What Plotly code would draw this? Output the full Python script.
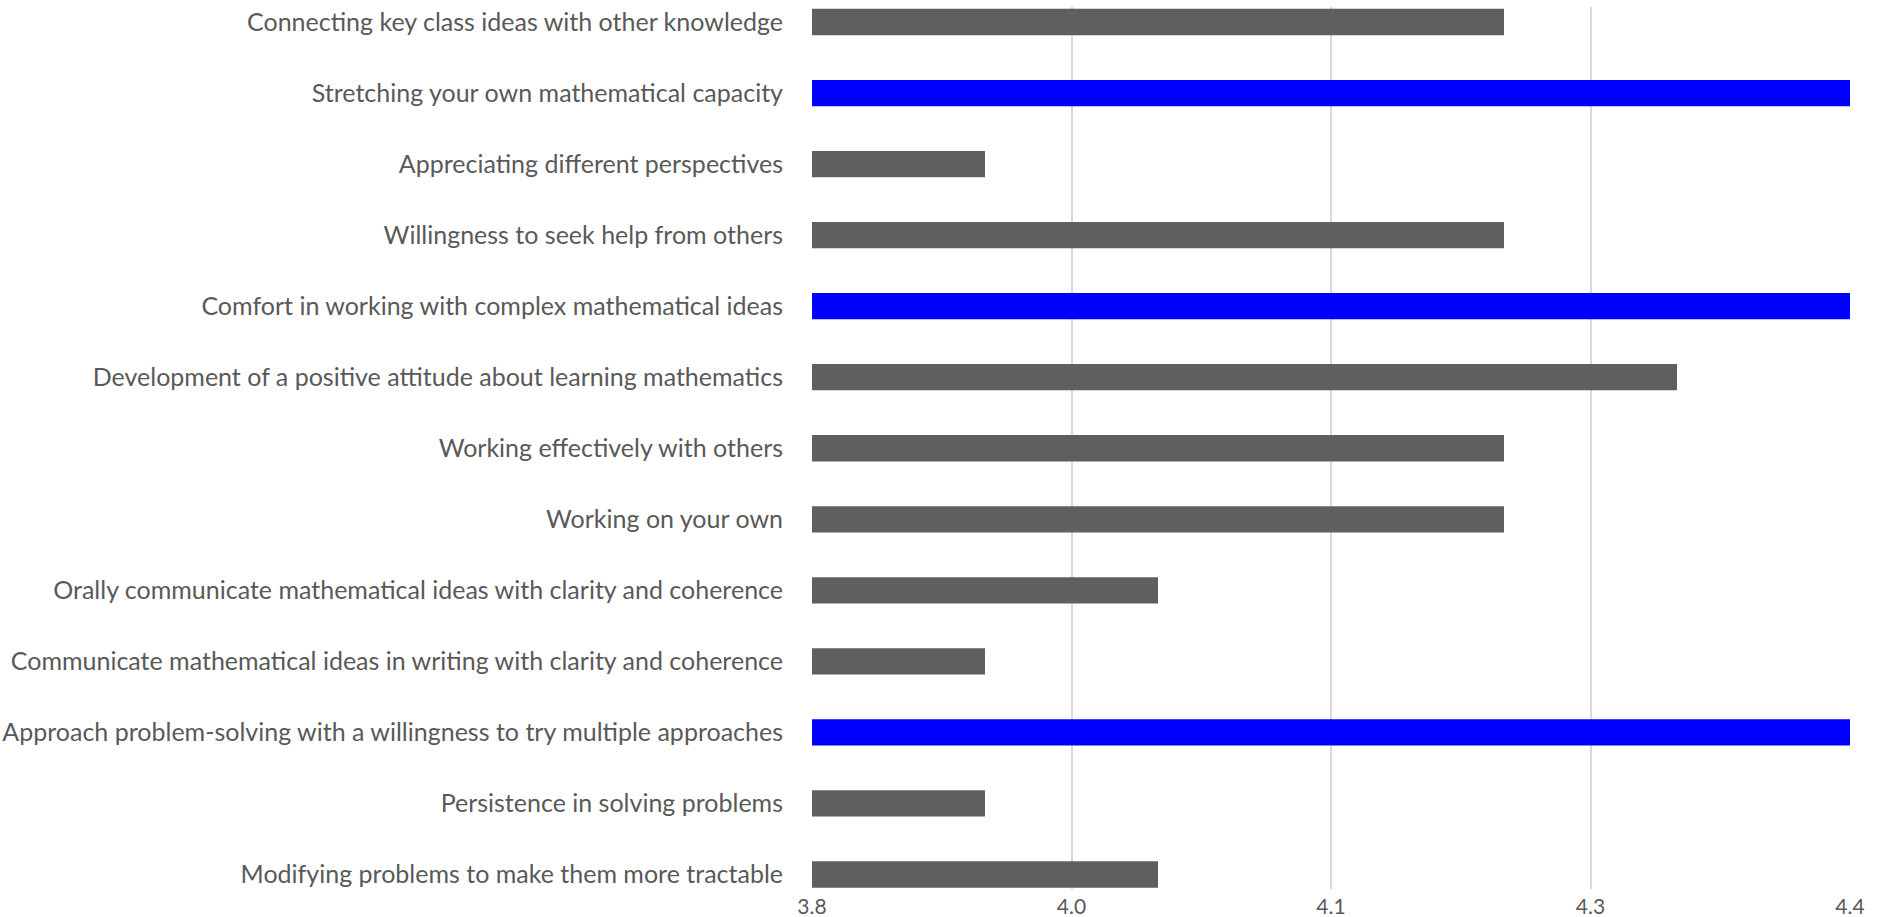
import plotly.graph_objects as go

categories = [
    "Connecting key class ideas with other knowledge",
    "Stretching your own mathematical capacity",
    "Appreciating different perspectives",
    "Willingness to seek help from others",
    "Comfort in working with complex mathematical ideas",
    "Development of a positive attitude about learning mathematics",
    "Working effectively with others",
    "Working on your own",
    "Orally communicate mathematical ideas with clarity and coherence",
    "Communicate mathematical ideas in writing with clarity and coherence",
    "Approach problem-solving with a willingness to try multiple approaches",
    "Persistence in solving problems",
    "Modifying problems to make them more tractable",
]
values = [4.2, 4.4, 3.9, 4.2, 4.4, 4.3, 4.2, 4.2, 4.0, 3.9, 4.4, 3.9, 4.0]
highlight = [False, True, False, False, True, False, False, False, False, False, True, False, False]

tick_vals = [3.8, 3.95, 4.1, 4.25, 4.4]
tick_text = ["3.8", "4.0", "4.1", "4.3", "4.4"]

colors = ["#0000FF" if h else "#5F5F5F" for h in highlight]

fig = go.Figure(go.Bar(
    x=values,
    y=categories,
    orientation="h",
    marker=dict(color=colors, line=dict(width=0)),
    width=0.37,
))

font = dict(family="Lato, sans-serif", size=25, color="#595959")
xfont = dict(family="Lato, sans-serif", size=21, color="#595959")

fig.update_layout(
    width=1880,
    height=917,
    margin=dict(l=812, r=30, t=7, b=28),
    paper_bgcolor="white",
    plot_bgcolor="white",
    showlegend=False,
    font=font,
    xaxis=dict(
        range=[3.8, 4.4],
        tickvals=tick_vals,
        ticktext=tick_text,
        showgrid=True,
        gridcolor="#D9D9D9",
        gridwidth=2,
        zeroline=False,
        showline=False,
        ticks="",
        ticklabelstandoff=3,
        tickfont=xfont,
        automargin=False,
    ),
    yaxis=dict(
        categoryorder="array",
        categoryarray=categories,
        range=[12.204, -0.211],
        showgrid=False,
        zeroline=False,
        showline=False,
        ticks="",
        ticklabelstandoff=28,
        tickfont=font,
        automargin=False,
    ),
)

fig.write_html("out.html")
